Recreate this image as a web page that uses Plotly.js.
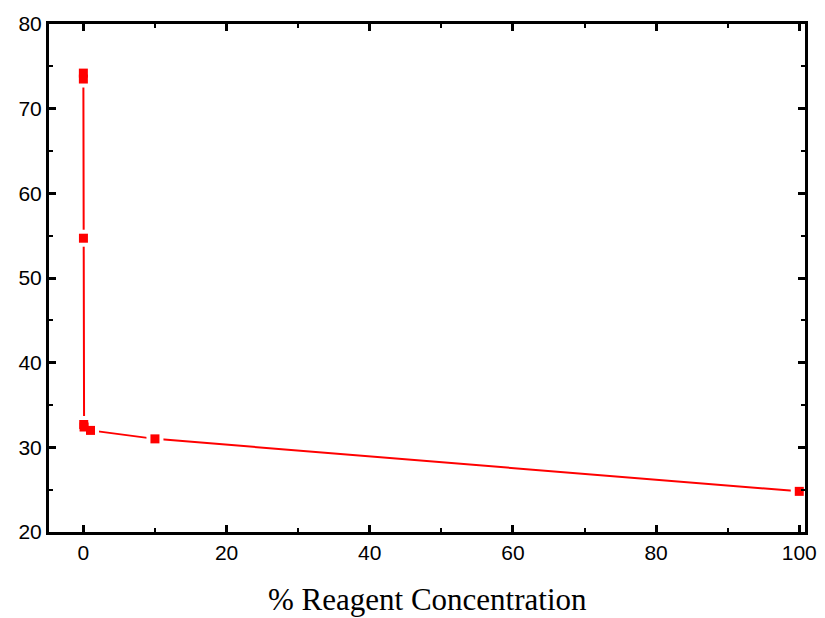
<!DOCTYPE html>
<html>
<head>
<meta charset="utf-8">
<script src="https://cdn.plot.ly/plotly-3.0.1.min.js"></script>
<style>html,body{margin:0;padding:0;background:#fff;}#chart{width:825px;height:618px;}</style>
</head>
<body>
<div id="chart"></div>
<script>
const concentration = [0, 0.001, 0.01, 0.05, 0.1, 1, 10, 100];
const values = [74.2, 73.5, 54.7, 32.7, 32.4, 32.0, 31.0, 24.8];
const xTickVals = [0, 20, 40, 60, 80, 100];
const yTickVals = [20, 30, 40, 50, 60, 70, 80];
const xTitle = '% Reagent Concentration';

const red = '#ff0000';
const traces = [
  {x: concentration, y: values, type: 'scatter', mode: 'lines',
   line: {color: red, width: 2}, hoverinfo: 'skip', showlegend: false},
  {x: concentration, y: values, type: 'scatter', mode: 'markers',
   marker: {symbol: 'square', size: 17, color: '#ffffff'}, hoverinfo: 'skip', showlegend: false},
  {x: concentration, y: values, type: 'scatter', mode: 'markers',
   marker: {symbol: 'square', size: 9, color: red}, showlegend: false}
];

const axisCommon = {
  showgrid: false, zeroline: false, showline: true, linecolor: '#000', linewidth: 3,
  mirror: 'allticks', ticks: 'inside', ticklen: 7, tickwidth: 3, tickcolor: '#000',
  tickfont: {family: 'Liberation Sans, Arial, sans-serif', size: 21, color: '#000'}
};

const layout = {
  width: 825, height: 618,
  margin: {l: 49, r: 20, t: 24, b: 86},
  paper_bgcolor: '#fff', plot_bgcolor: '#fff',
  xaxis: Object.assign({}, axisCommon, {
    range: [-4.8, 100.8], tickvals: xTickVals, ticktext: xTickVals.map(String),
    minor: {ticks: 'inside', ticklen: 4, tickwidth: 2, tickcolor: '#000', dtick: 10, tick0: 0}
  }),
  yaxis: Object.assign({}, axisCommon, {
    range: [20, 80], tickvals: yTickVals, ticktext: yTickVals.map(String),
    minor: {ticks: 'inside', ticklen: 4, tickwidth: 2, tickcolor: '#000', dtick: 5, tick0: 0}
  }),
  annotations: [{
    text: xTitle, xref: 'paper', yref: 'paper', x: 0.5, y: -0.132,
    xanchor: 'center', yanchor: 'middle', showarrow: false,
    font: {family: 'Liberation Serif, Times New Roman, serif', size: 31, color: '#000'}
  }]
};

Plotly.newPlot('chart', traces, layout, {displayModeBar: false, staticPlot: true});
</script>
</body>
</html>
